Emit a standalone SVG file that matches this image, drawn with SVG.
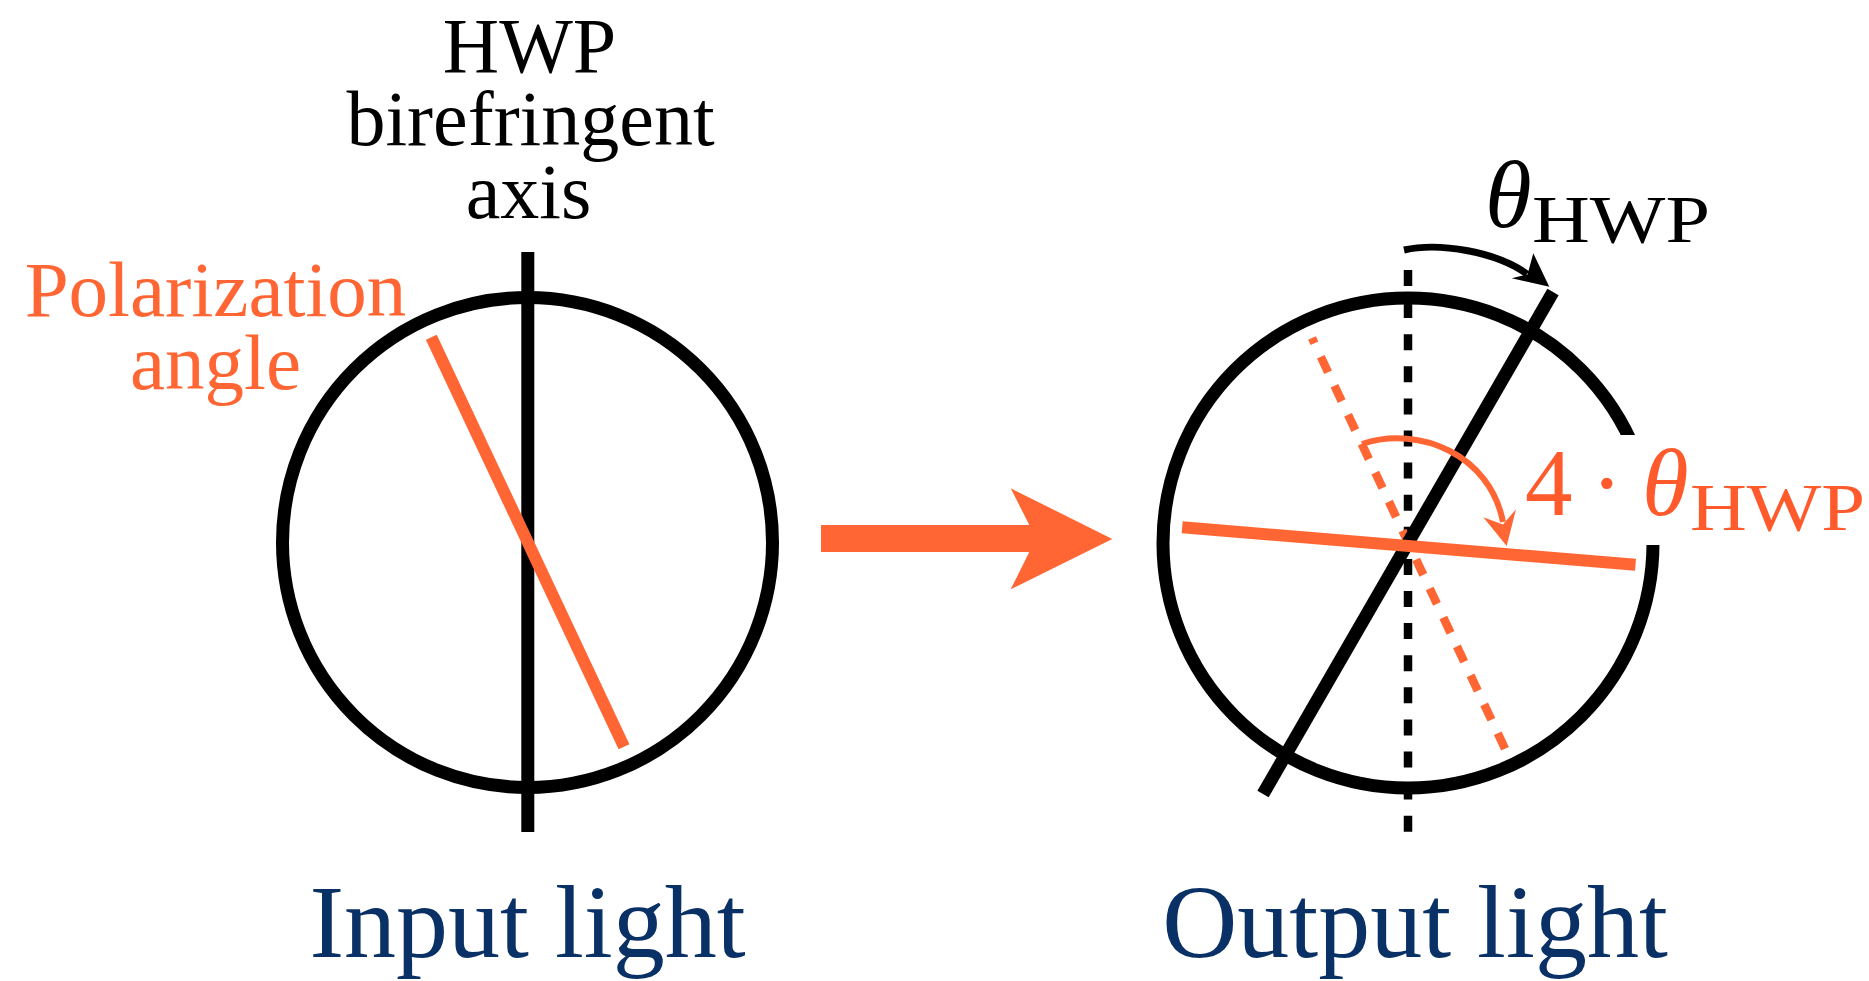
<svg xmlns="http://www.w3.org/2000/svg" width="1869" height="981" viewBox="0 0 1869 981">
<style>
.txt{font-family:"Liberation Serif","Times New Roman",serif}
.blk{fill:#000}
.org{fill:#FF6633}
.org2{fill:#FF5A2C}
.navy{fill:#0A3166}
.circ{fill:none;stroke:#000;stroke-width:13}
.axis{stroke:#000;stroke-width:13;fill:none}
.pol{stroke:#FF6633;stroke-width:12;fill:none}
.dashb{stroke:#000;stroke-width:8.5;stroke-dasharray:16 16.1;fill:none}
.dasho{stroke:#FF6633;stroke-width:8.5;stroke-dasharray:17 15;fill:none}
</style>
<rect width="1869" height="981" fill="#fff"/>

<g id="input-waveplate">
  <circle class="circ" cx="527.5" cy="542.5" r="245"/>
  <line class="axis" x1="527.8" y1="252" x2="527.8" y2="832"/>
  <line class="pol" x1="431.3" y1="337.3" x2="624" y2="746.7"/>
</g>

<g id="output-waveplate">
  <circle class="circ" cx="1408" cy="543" r="245"/>
  <line class="dashb" x1="1408" y1="270" x2="1408" y2="832"/>
  <line class="dasho" x1="1505" y1="748.7" x2="1312" y2="338"/>
  <line class="axis" x1="1553" y1="292" x2="1263" y2="794"/>
  <line class="pol" x1="1182.2" y1="527.3" x2="1635.5" y2="564.7"/>
</g>

<g id="connectors">
  <polygon class="org" points="821,525 1029.3,525 1010.7,488.3 1112.3,539 1010.7,589.3 1029.3,552 821,552"/>
  <path d="M1404,250 C1440,242 1497,252 1527,274" fill="none" stroke="#000" stroke-width="7"/>
  <polygon class="blk" points="1549.3,286.7 1511.7,278.3 1527.5,274.5 1533.3,253.3"/>
  <path d="M1362,444 C1420,425 1490,455 1503,522" fill="none" stroke="#FF6633" stroke-width="6"/>
  <polygon class="org" points="1506.7,546 1483.3,517.3 1503,524.5 1516,509.3"/>
</g>

<g id="label-hwp-axis">
  <text class="txt blk" font-size="78" text-anchor="middle"><tspan x="529.5" y="72">HWP</tspan><tspan x="530.5" y="145">birefringent</tspan><tspan x="528.5" y="218">axis</tspan></text>
</g>

<g id="label-polarization">
  <text class="txt org" font-size="79" text-anchor="middle"><tspan x="215.5" y="316">Polarization</tspan><tspan x="215.5" y="389">angle</tspan></text>
</g>

<g id="label-theta">
  <text class="txt blk" x="1485" y="227" font-size="95" font-style="italic">θ</text>
  <text class="txt blk" x="1532" y="241.7" font-size="68" textLength="178" lengthAdjust="spacingAndGlyphs">HWP</text>
</g>

<g id="label-4theta">
  <rect x="1520" y="435" width="349" height="110" fill="#fff"/>
  <text class="txt org2" x="1525" y="515" font-size="95">4</text>
  <text class="txt org2" x="1606.7" y="515" font-size="95" text-anchor="middle">·</text>
  <text class="txt org2" x="1642" y="515" font-size="95" font-style="italic">θ</text>
  <text class="txt org2" x="1690" y="530" font-size="68" textLength="175" lengthAdjust="spacingAndGlyphs">HWP</text>
</g>

<g id="label-input">
  <text class="txt navy" font-size="104" text-anchor="middle" x="527.5" y="957">Input light</text>
</g>
<g id="label-output">
  <text class="txt navy" font-size="104" text-anchor="middle" x="1415" y="957">Output light</text>
</g>
</svg>
